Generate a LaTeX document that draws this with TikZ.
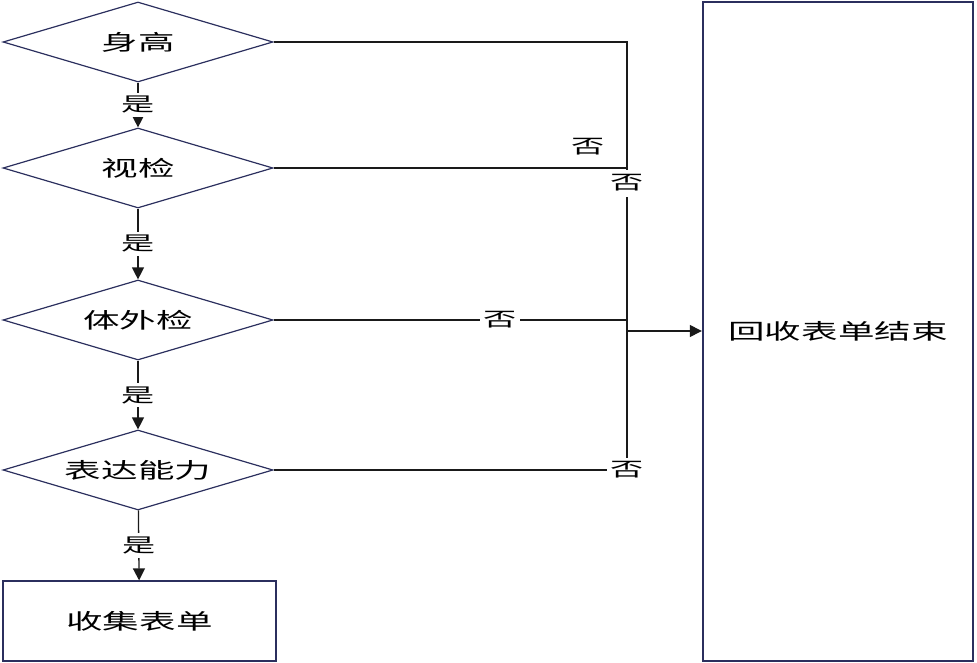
\documentclass[tikz,border=0pt]{standalone}
\usepackage{fontspec}
\setmainfont{Noto Sans CJK SC}[FakeStretch=1.7]
\usepackage{tikz}
\usetikzlibrary{arrows.meta,shapes.geometric}
\definecolor{navy}{HTML}{2B2F5E}
\definecolor{ink}{HTML}{1A1A1A}

\begin{document}
\begin{tikzpicture}[x=1pt,y=-1pt,
check/.style={diamond,draw=navy,line width=1.2pt,inner sep=0pt,aspect=3.4,minimum width=270pt,minimum height=80pt,font=\fontsize{21.5}{25}\selectfont},
box/.style={rectangle,draw=navy,line width=1.2pt,inner sep=0pt,font=\fontsize{21.5}{25}\selectfont},
lbl/.style={fill=white,inner sep=3.5pt,font=\fontsize{19.5}{23}\selectfont},
line/.style={draw=ink,line width=1.3pt},
arrow/.style={line,-{Triangle[length=12pt,width=12pt]}} ]

\useasboundingbox (0,0) rectangle (977,663);

\node[check](h) at (138,42) {身高};

\node[check](s) at (138,168) {视检};

\node[check](t) at (138,320) {体外检};

\node[check](b) at (138,470) {表达能力};

\node[box,minimum width=273pt,minimum height=80pt](c) at (139.5,621) {收集表单};

\node[box,line width=2.4pt,minimum width=270pt,minimum height=659pt](e) at (838,331.5) {回收表单结束};

\coordinate (k1) at (627,42);
\coordinate (k2) at (627,168);
\coordinate (k3) at (627,320);
\coordinate (k4) at (627,331);
\coordinate (k5) at (627,470);

\draw[arrow] (h) -- node[lbl] {是} (s);

\draw[arrow] (s) -- node[lbl] {是} (t);

\draw[arrow] (t) -- node[lbl] {是} (b);

\draw[arrow] (b) -- node[lbl] {是} (c);

\draw[line] (h.east) -- (k1) -- node[lbl,pos=0.83,xshift=-39pt] {否} (k2);

\draw[line] (s.east) -- (k2) -- node[lbl,pos=0.05,inner sep=5pt] {否} (k5);

\draw[line] (t.east) -- node[lbl,pos=0.64] {否} (k3);

\draw[line] (b.east) -- node[lbl,pos=1] {否} (k5);

\draw[arrow] (k4) -- (e.west |- k4);

\end{tikzpicture}
\end{document}
